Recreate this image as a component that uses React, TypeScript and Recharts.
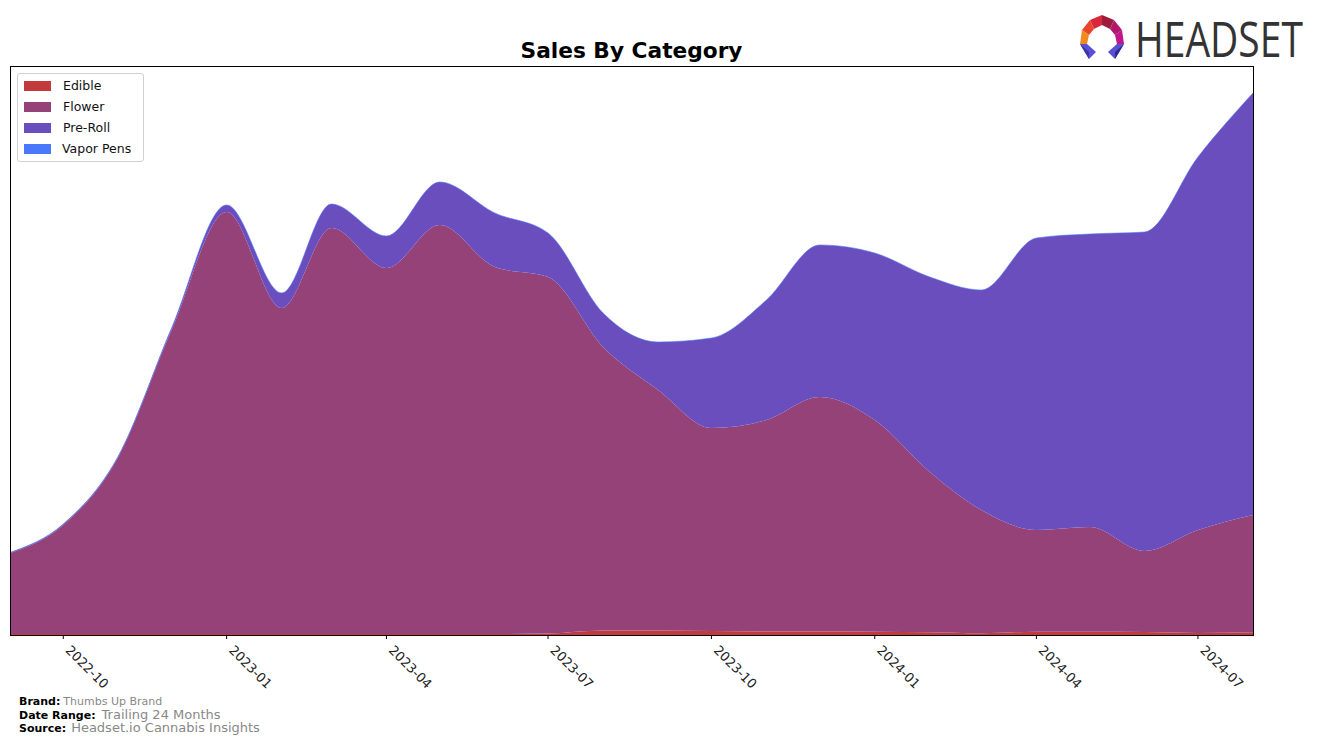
import React from "react";
import { AreaChart, Area, XAxis, YAxis } from "recharts";

const months = [
  "2022-09", "2022-10", "2022-11", "2022-12", "2023-01", "2023-02", "2023-03", "2023-04",
  "2023-05", "2023-06", "2023-07", "2023-08", "2023-09", "2023-10", "2023-11", "2023-12",
  "2024-01", "2024-02", "2024-03", "2024-04", "2024-05", "2024-06", "2024-07", "2024-08",
];
const edible = [1, 1, 1, 1, 1, 1, 1, 1, 1, 1, 1.5, 4.5, 4.5, 4, 3.5, 3.5, 3.3, 2.7, 1.7, 3.3, 3.3, 3, 2, 2.7];
const flower = [81, 109, 177, 304, 422, 326, 406, 366, 409, 367, 356.5, 283.5, 240.5, 203, 211.5, 234.5, 211.7, 160.3, 123.3, 101.7, 104.7, 81, 103, 117.3];
const preRoll = [0.5, 1, 1, 2, 7, 15, 24, 32, 43, 54, 44, 34, 48, 90, 120, 152, 167, 195, 220, 292, 293, 319, 373, 422];
const vaporPens = [0, 0, 0, 0, 0, 0, 0, 0, 0, 0, 0, 0, 0, 0, 0, 0, 0, 0, 0, 0, 0, 0, 0, 0];
const tickLabels = ["2022-10", "2023-01", "2023-04", "2023-07", "2023-10", "2024-01", "2024-04", "2024-07"];

const seriesNames = ["Edible", "Flower", "Pre-Roll", "Vapor Pens"];
const seriesColors = ["#c23a3c", "#954279", "#6a4ebe", "#4a78fa"];

const toTs = (m: string) => {
  const [y, mo] = m.split("-").map(Number);
  return Date.UTC(y, mo - 1, 1);
};

const data = months.map((m, i) => ({
  t: toTs(m),
  Edible: edible[i],
  Flower: flower[i],
  "Pre-Roll": preRoll[i],
  "Vapor Pens": vaporPens[i],
}));

const tickValues = tickLabels.map(toTs);
const labelFor = (v: number) => {
  const idx = tickValues.indexOf(v);
  return idx >= 0 ? tickLabels[idx] : "";
};

const FONT = "'DejaVu Sans', sans-serif";

const RotTick = (props: any) => {
  const { x, y, payload } = props;
  const ax = x + 1.5;
  const ay = y + 10;
  return (
    <text
      x={ax}
      y={ay}
      transform={`rotate(45, ${ax}, ${ay})`}
      textAnchor="start"
      fontSize={13}
      fontFamily={FONT}
      fill="#222"
    >
      {labelFor(payload.value)}
    </text>
  );
};

const LegendBox = () => (
  <div
    style={{
      position: "absolute",
      left: 17,
      top: 73,
      border: "1px solid #d0d0d0",
      borderRadius: 3,
      background: "#fff",
      width: 127,
      height: 89,
      boxSizing: "border-box",
      padding: "1px 0 0 6px",
      fontFamily: FONT,
      fontSize: 12.5,
      color: "#111",
    }}
  >
    {seriesNames.map((n, i) => (
      <div key={n} style={{ display: "flex", alignItems: "center", height: 21 }}>
        <div style={{ width: 27, height: 10, background: seriesColors[i], marginRight: i === 3 ? 11 : 12 }} />
        <span>{n}</span>
      </div>
    ))}
  </div>
);

const Logo = () => (
  <svg width={240} height={80} style={{ position: "absolute", left: 1072, top: 0 }}>
    <g transform="translate(8,15)">
      <polygon points="22,0 34,5 30,14 22,10" fill="#9e1b3c" />
      <polygon points="22,0 10,5 14,14 22,10" fill="#d9263a" />
      <polygon points="10,5 2,15 9,20 14,14" fill="#e8452c" />
      <polygon points="34,5 42,15 35,20 30,14" fill="#b2186a" />
      <polygon points="2,15 0,29 7,29 9,20" fill="#f28a22" />
      <polygon points="42,15 44,29 37,29 35,20" fill="#c0168a" />
      <polygon points="0,29 7,29 16,37 9,44" fill="#5b4fd6" />
      <polygon points="0,29 9,44 9,37" fill="#3a34a8" />
      <polygon points="44,29 37,29 28,37 35,44" fill="#5b4fd6" />
      <polygon points="44,29 35,44 35,37" fill="#2e2a8e" />
    </g>
    <g transform="translate(63,57) scale(0.78,1)">
      <text x={0} y={0} fontFamily="'Open Sans', sans-serif" fontSize={50} fill="#333">
        HEADSET
      </text>
    </g>
  </svg>
);

export default function App() {
  return (
    <div style={{ position: "absolute", left: 0, top: 0, width: 1317, height: 744, background: "#fff", overflow: "hidden" }}>
      <div
        style={{
          position: "absolute",
          left: 0,
          width: 1263,
          top: 38,
          textAlign: "center",
          fontFamily: FONT,
          fontWeight: "bold",
          fontSize: 21.7,
          lineHeight: "26px",
          color: "#000",
        }}
      >
        Sales By Category
      </div>
      <Logo />
      <AreaChart
        width={1317}
        height={744}
        data={data}
        margin={{ top: 66, left: 10, right: 64, bottom: 79 }}
      >
        <XAxis
          dataKey="t"
          type="number"
          scale="linear"
          domain={[data[0].t, data[data.length - 1].t]}
          allowDataOverflow
          ticks={tickValues}
          tick={<RotTick />}
          tickLine={{ stroke: "#000" }}
          tickSize={4}
          axisLine={false}
          height={30}
          interval={0}
        />
        <YAxis hide width={0} domain={[0, 569]} allowDataOverflow />
        {seriesNames.map((n, i) => (
          <Area
            key={n}
            type="monotone"
            dataKey={n}
            stackId="1"
            fill={seriesColors[i]}
            fillOpacity={1}
            stroke={i === 3 ? seriesColors[3] : "none"}
            strokeWidth={i === 3 ? 0.6 : 0}
            isAnimationActive={false}
            dot={false}
            activeDot={false}
          />
        ))}
      </AreaChart>
      <div
        style={{
          position: "absolute",
          left: 10,
          top: 66,
          width: 1244,
          height: 570,
          border: "1px solid #000",
          boxSizing: "border-box",
          pointerEvents: "none",
        }}
      />
      <LegendBox />
      <div style={{ position: "absolute", left: 19, top: 693, fontFamily: FONT }}>
        <div style={{ height: 13.5, lineHeight: "13.5px", whiteSpace: "nowrap" }}>
          <span style={{ fontWeight: "bold", fontSize: 11 }}>Brand:</span>
          <span style={{ fontSize: 11, color: "#888", marginLeft: 3 }}>Thumbs Up Brand</span>
        </div>
        <div style={{ height: 13.5, lineHeight: "13.5px", whiteSpace: "nowrap" }}>
          <span style={{ fontWeight: "bold", fontSize: 11 }}>Date Range:</span>
          <span style={{ fontSize: 13, color: "#888", marginLeft: 6 }}>Trailing 24 Months</span>
        </div>
        <div style={{ height: 13.5, lineHeight: "13.5px", whiteSpace: "nowrap" }}>
          <span style={{ fontWeight: "bold", fontSize: 11 }}>Source:</span>
          <span style={{ fontSize: 13, color: "#888", marginLeft: 5 }}>Headset.io Cannabis Insights</span>
        </div>
      </div>
    </div>
  );
}
